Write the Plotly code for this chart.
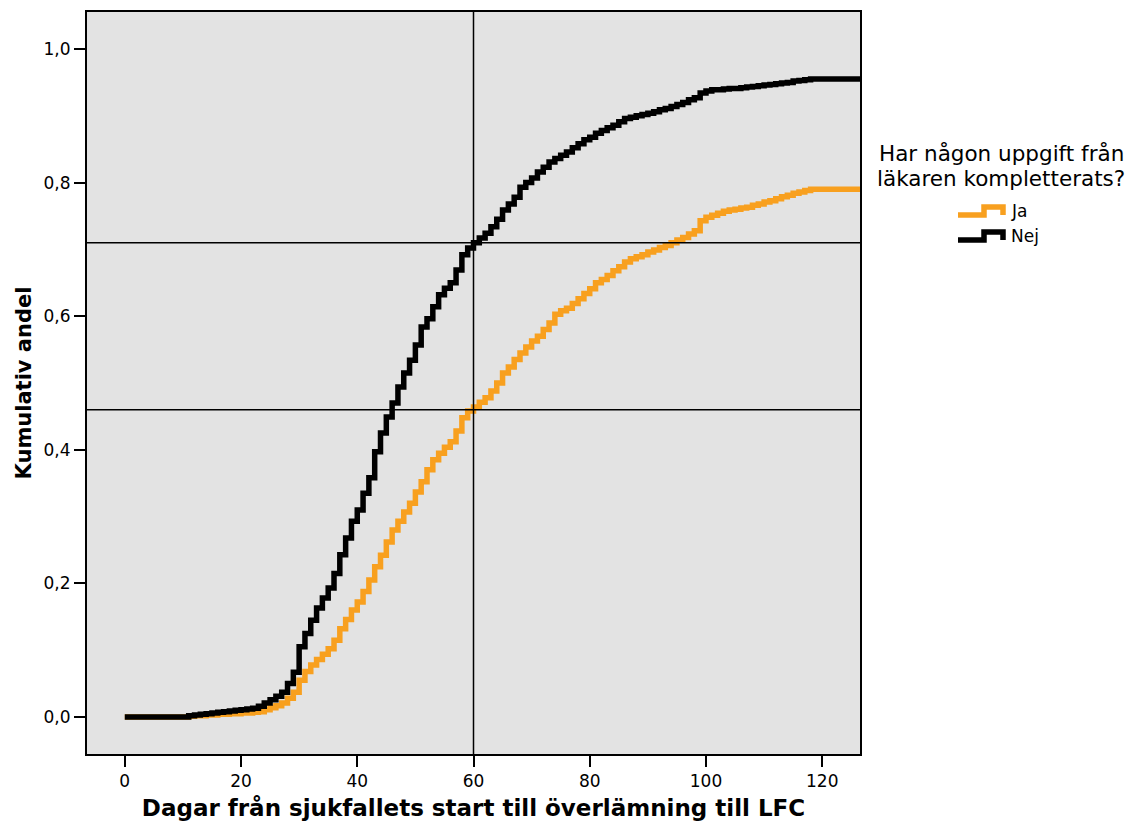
import plotly.graph_objects as go

# Days since the start of the sick-leave case
days = list(range(0, 128))

# Cumulative share handed over, group "Nej" (no supplementary info from the doctor)
nej = [
    0, 0, 0, 0, 0, 0, 0, 0, 0, 0, 0,
    0.002, 0.003, 0.004, 0.005, 0.006, 0.007, 0.008, 0.009, 0.010, 0.011,
    0.012, 0.013, 0.016, 0.021, 0.026, 0.031, 0.037, 0.050, 0.067, 0.105,
    0.125, 0.145, 0.163, 0.178, 0.193, 0.215, 0.243, 0.268, 0.293, 0.310,
    0.335, 0.358, 0.397, 0.425, 0.449, 0.470, 0.494, 0.515, 0.534, 0.557,
    0.584, 0.596, 0.614, 0.632, 0.642, 0.650, 0.669, 0.692, 0.702, 0.710,
    0.717, 0.724, 0.734, 0.745, 0.759, 0.768, 0.778, 0.793, 0.800, 0.807,
    0.816, 0.823, 0.831, 0.836, 0.841, 0.846, 0.852, 0.858, 0.864, 0.868,
    0.874, 0.878, 0.882, 0.886, 0.891, 0.896, 0.898, 0.900, 0.902, 0.904,
    0.906, 0.909, 0.911, 0.914, 0.917, 0.920, 0.924, 0.927, 0.934, 0.937,
    0.939, 0.939, 0.940, 0.941, 0.941, 0.942, 0.943, 0.944, 0.945, 0.946,
    0.947, 0.948, 0.949, 0.950, 0.952, 0.953, 0.954, 0.955, 0.955, 0.955,
    0.955, 0.955, 0.955, 0.955, 0.955, 0.955, 0.955,
]

# Cumulative share handed over, group "Ja" (supplementary info received)
ja = [
    0, 0, 0, 0, 0, 0, 0, 0, 0, 0, 0,
    0.001, 0.002, 0.002, 0.003, 0.003, 0.004, 0.004, 0.005, 0.005, 0.006,
    0.006, 0.007, 0.008, 0.011, 0.014, 0.017, 0.021, 0.028, 0.037, 0.055,
    0.068, 0.078, 0.086, 0.094, 0.102, 0.115, 0.132, 0.146, 0.160, 0.172,
    0.188, 0.205, 0.225, 0.242, 0.262, 0.280, 0.293, 0.307, 0.320, 0.337,
    0.352, 0.370, 0.385, 0.395, 0.404, 0.412, 0.428, 0.448, 0.458, 0.464,
    0.471, 0.478, 0.488, 0.500, 0.515, 0.524, 0.535, 0.545, 0.554, 0.563,
    0.570, 0.580, 0.590, 0.603, 0.608, 0.612, 0.619, 0.626, 0.634, 0.641,
    0.650, 0.655, 0.661, 0.668, 0.674, 0.681, 0.686, 0.689, 0.692, 0.696,
    0.699, 0.703, 0.706, 0.710, 0.714, 0.718, 0.723, 0.728, 0.743, 0.748,
    0.751, 0.754, 0.757, 0.759, 0.760, 0.762, 0.763, 0.766, 0.768, 0.771,
    0.773, 0.776, 0.779, 0.781, 0.784, 0.786, 0.788, 0.790, 0.790, 0.790,
    0.790, 0.790, 0.790, 0.790, 0.790, 0.790, 0.790,
]

# Reference lines: day 60 and the two groups' shares at that day
ref_day = 60
ref_levels = [0.71, 0.46]

x_ticks = [0, 20, 40, 60, 80, 100, 120]
y_ticks = [0.0, 0.2, 0.4, 0.6, 0.8, 1.0]

legend_title = ["Har någon uppgift från", "läkaren kompletterats?"]
group_names = ["Ja", "Nej"]
group_colors = ["#f8a01f", "#000000"]

FONT = "DejaVu Sans"
W, H = 1130, 826
L, R, T, B = 87, 270, 12, 72
PW, PH = W - L - R, H - T - B


def px(xp):
    return (xp - L) / PW


def py(yp):
    return (H - B - yp) / PH


fig = go.Figure()
for name, ys, col in [("Ja", ja, group_colors[0]), ("Nej", nej, group_colors[1])]:
    fig.add_trace(go.Scatter(
        x=days, y=ys, name=name, mode="lines",
        line=dict(color=col, width=5.5, shape="hv"),
        showlegend=False,
    ))

shapes = [
    dict(type="line", xref="x", yref="paper", x0=ref_day, x1=ref_day, y0=0, y1=1,
         line=dict(color="#000000", width=1.5)),
]
for lv in ref_levels:
    shapes.append(dict(type="line", xref="paper", yref="y", x0=0, x1=1, y0=lv, y1=lv,
                       line=dict(color="#000000", width=1.5)))

# Step-shaped legend glyphs
annotations = []
for i, (name, col) in enumerate(zip(group_names, group_colors)):
    yc = 211 + 25 * i
    lo, hi = yc + 4, yc - 4
    path = (f"M {px(958)},{py(lo)} L {px(984)},{py(lo)} L {px(984)},{py(hi)} "
            f"L {px(1003)},{py(hi)} L {px(1003)},{py(lo)}")
    shapes.append(dict(type="path", xref="paper", yref="paper", path=path,
                       line=dict(color=col, width=5.5)))
    annotations.append(dict(x=px(1009), y=py(yc), xref="paper", yref="paper",
                            text=name, showarrow=False, xanchor="left", yanchor="middle",
                            font=dict(family=FONT, size=17, color="#000000")))

for j, line in enumerate(legend_title):
    annotations.append(dict(x=px(1001), y=py(153 + 25 * j), xref="paper", yref="paper",
                            text=line, showarrow=False, xanchor="center", yanchor="middle",
                            font=dict(family=FONT, size=21.5, color="#000000")))

fig.update_layout(
    width=W, height=H,
    margin=dict(l=L, r=R, t=T, b=B, autoexpand=False),
    paper_bgcolor="#ffffff",
    plot_bgcolor="#e3e3e3",
    separators=", ",
    font=dict(family=FONT, size=17, color="#000000"),
    shapes=shapes,
    annotations=annotations,
    showlegend=False,
)

fig.update_xaxes(
    range=[-6.5, 126.5], tickvals=x_ticks, ticks="outside", ticklen=11, tickwidth=2,
    tickcolor="#000000", showgrid=False, zeroline=False,
    showline=True, linecolor="#000000", linewidth=2, mirror=True,
    tickfont=dict(family=FONT, size=17),
    title=dict(text="<b>Dagar från sjukfallets start till överlämning till LFC</b>",
               font=dict(family=FONT, size=23), standoff=9),
)
fig.update_yaxes(
    range=[-0.0554, 1.0554], tickvals=y_ticks, tickformat=".1f", ticks="outside",
    ticklen=11, tickwidth=2, tickcolor="#000000", showgrid=False, zeroline=False,
    showline=True, linecolor="#000000", linewidth=2, mirror=True,
    tickfont=dict(family=FONT, size=17),
    title=dict(text="<b>Kumulativ andel</b>", font=dict(family=FONT, size=21), standoff=6),
)

fig.write_html("out.html")
